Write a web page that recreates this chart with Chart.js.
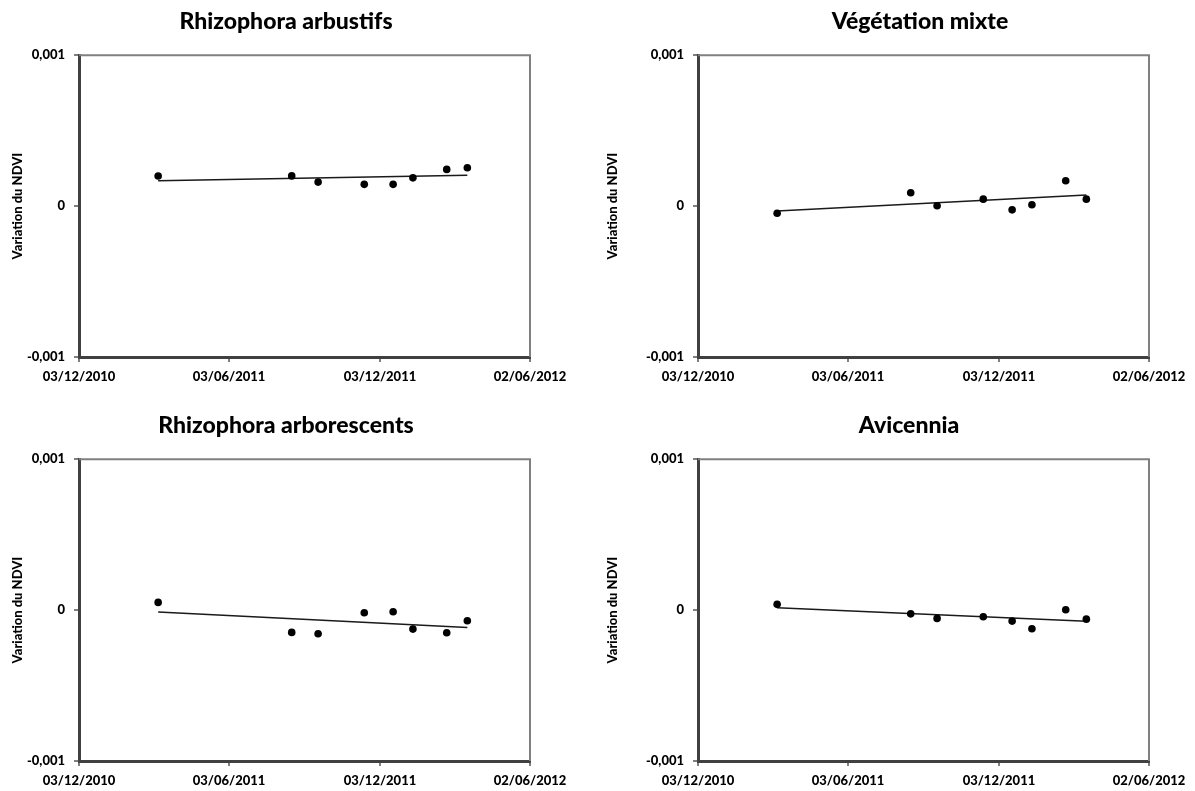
<!DOCTYPE html>
<html>
<head>
<meta charset="utf-8">
<script src="https://cdn.jsdelivr.net/npm/chart.js"></script>
<style>
  html, body { margin: 0; padding: 0; background: #fff; overflow: hidden; width: 1195px; height: 791px; }
  .panel { position: absolute; }
</style>
</head>
<body>
<canvas id="c1" class="panel"></canvas>
<canvas id="c2" class="panel"></canvas>
<canvas id="c3" class="panel"></canvas>
<canvas id="c4" class="panel"></canvas>
<script>
// acquisition dates (same for every class)
const dates = ['2011-03-09', '2011-08-18', '2011-09-19', '2011-11-14', '2011-12-19', '2012-01-12', '2012-02-22', '2012-03-18'];

// NDVI variation per class
const rhizoArbustifs = [0.000199, 0.000200, 0.000159, 0.000144, 0.000144, 0.000187, 0.000243, 0.000254];
const vegMixte = [-0.000048, 0.000088, 0.000002, 0.000046, -0.000025, 0.000009, 0.000168, 0.000046];
const rhizoArborescents = [0.000051, -0.000148, -0.000157, -0.000018, -0.000011, -0.000126, -0.000150, -0.000071];
const avicennia = [0.000038, -0.000025, -0.000055, -0.000044, -0.000073, -0.000124, 0.000002, -0.000060];

const titles = ['Rhizophora arbustifs', 'Végétation mixte', 'Rhizophora arborescents', 'Avicennia'];
const yTitle = 'Variation du NDVI';

const xTickDates = ['2010-12-03', '2011-06-03', '2011-12-03', '2012-06-02'];
const xTickLabels = ['03/12/2010', '03/06/2011', '03/12/2011', '02/06/2012'];
const yTickValues = [-0.001, 0, 0.001];
const yTickLabels = ['-0,001', '0', '0,001'];

Chart.defaults.font.family = 'Lato';

const origin = Date.UTC(2010, 11, 3);
function toDays(s) {
    const p = s.split('-');
    return (Date.UTC(+p[0], +p[1] - 1, +p[2]) - origin) / 86400000;
}

// least squares trend, drawn over the data range like the excel trendline
function trend(xs, ys) {
    const n = xs.length;
    const mx = xs.reduce((a, b) => a + b, 0) / n;
    const my = ys.reduce((a, b) => a + b, 0) / n;
    let sxy = 0, sxx = 0;
    for (let i = 0; i < n; i++) {
        sxy += (xs[i] - mx) * (ys[i] - my);
        sxx += (xs[i] - mx) * (xs[i] - mx);
    }
    const b = sxy / sxx;
    const a = my - b * mx;
    return [{ x: xs[0], y: a + b * xs[0] }, { x: xs[n - 1], y: a + b * xs[n - 1] }];
}

// grey top and right edges of the plot area
const frame = {
    id: 'frame',
    afterDraw(chart) {
        const a = chart.chartArea;
        const ctx = chart.ctx;
        ctx.save();
        ctx.strokeStyle = '#808080';
        ctx.lineWidth = 2;
        ctx.beginPath();
        ctx.moveTo(a.left, a.top);
        ctx.lineTo(a.right, a.top);
        ctx.lineTo(a.right, a.bottom);
        ctx.stroke();
        ctx.restore();
    }
};

const panels = [
    { id: 'c1', values: rhizoArbustifs, left: 0, top: 0, w: 566, h: 400, pl: 6, yw: 73, wr: 36, tpad: { top: 10, bottom: 21 }, xh: 43 },
    { id: 'c2', values: vegMixte, left: 598, top: 0, w: 641, h: 400, pl: 3, yw: 97, wr: 90, tpad: { top: 10, bottom: 21 }, xh: 43 },
    { id: 'c3', values: rhizoArborescents, left: 0, top: 400, w: 566, h: 391, pl: 6, yw: 73, wr: 36, tpad: { top: 14, bottom: 21 }, xh: 30 },
    { id: 'c4', values: avicennia, left: 598, top: 400, w: 619, h: 391, pl: 3, yw: 97, wr: 68, tpad: { top: 14, bottom: 21 }, xh: 30 }
];

const xs = dates.map(toDays);
const tickFont = { family: 'Lato', weight: '900', size: 13 };

panels.forEach((p, k) => {
    const canvas = document.getElementById(p.id);
    canvas.width = p.w;
    canvas.height = p.h;
    canvas.style.left = p.left + 'px';
    canvas.style.top = p.top + 'px';

    new Chart(canvas.getContext('2d'), {
        type: 'scatter',
        data: {
            datasets: [{
                data: xs.map((x, i) => ({ x: x, y: p.values[i] })),
                pointRadius: 3.8,
                pointBackgroundColor: '#000',
                pointBorderColor: '#000',
                pointBorderWidth: 0
            }, {
                type: 'line',
                data: trend(xs, p.values),
                borderColor: '#1a1a1a',
                borderWidth: 1.5,
                pointRadius: 0,
                fill: false
            }]
        },
        options: {
            responsive: false,
            animation: false,
            layout: { padding: { left: p.pl, right: 0, top: 0, bottom: 0 } },
            plugins: {
                legend: { display: false },
                tooltip: { enabled: false },
                title: {
                    display: true,
                    text: titles[k],
                    color: '#000',
                    font: { family: 'Lato', weight: '900', size: 23, lineHeight: 1.05 },
                    padding: p.tpad
                }
            },
            scales: {
                x: {
                    type: 'linear',
                    min: 0,
                    max: toDays(xTickDates[xTickDates.length - 1]),
                    afterBuildTicks: s => { s.ticks = xTickDates.map(d => ({ value: toDays(d) })); },
                    afterFit: s => { s.height = p.xh; s.paddingLeft = 0; s.paddingRight = 0; },
                    ticks: {
                        callback: (v, i) => xTickLabels[i],
                        autoSkip: false,
                        maxRotation: 0,
                        color: '#000',
                        font: tickFont,
                        padding: 7
                    },
                    grid: { drawOnChartArea: false, drawTicks: true, tickLength: 5, color: '#808080', lineWidth: 2 },
                    border: { color: '#404040', width: 3 }
                },
                y: {
                    min: -0.001,
                    max: 0.001,
                    afterBuildTicks: s => { s.ticks = yTickValues.map(v => ({ value: v })); },
                    afterFit: s => { s.width = p.yw; s.paddingTop = 0; s.paddingBottom = 0; },
                    ticks: {
                        callback: (v, i) => yTickLabels[i],
                        color: '#000',
                        font: tickFont,
                        padding: 9
                    },
                    grid: { drawOnChartArea: false, drawTicks: true, tickLength: 5, color: '#808080', lineWidth: 2 },
                    border: { color: '#404040', width: 3 },
                    title: { display: true, text: yTitle, color: '#000', font: tickFont, padding: { top: 4, bottom: 0 } }
                },
                yRight: {
                    axis: 'y',
                    position: 'right',
                    grid: { display: false },
                    ticks: { display: false },
                    border: { display: false },
                    afterFit: s => { s.width = p.wr; s.paddingTop = 0; s.paddingBottom = 0; }
                }
            }
        },
        plugins: [frame]
    });
});
</script>
</body>
</html>
